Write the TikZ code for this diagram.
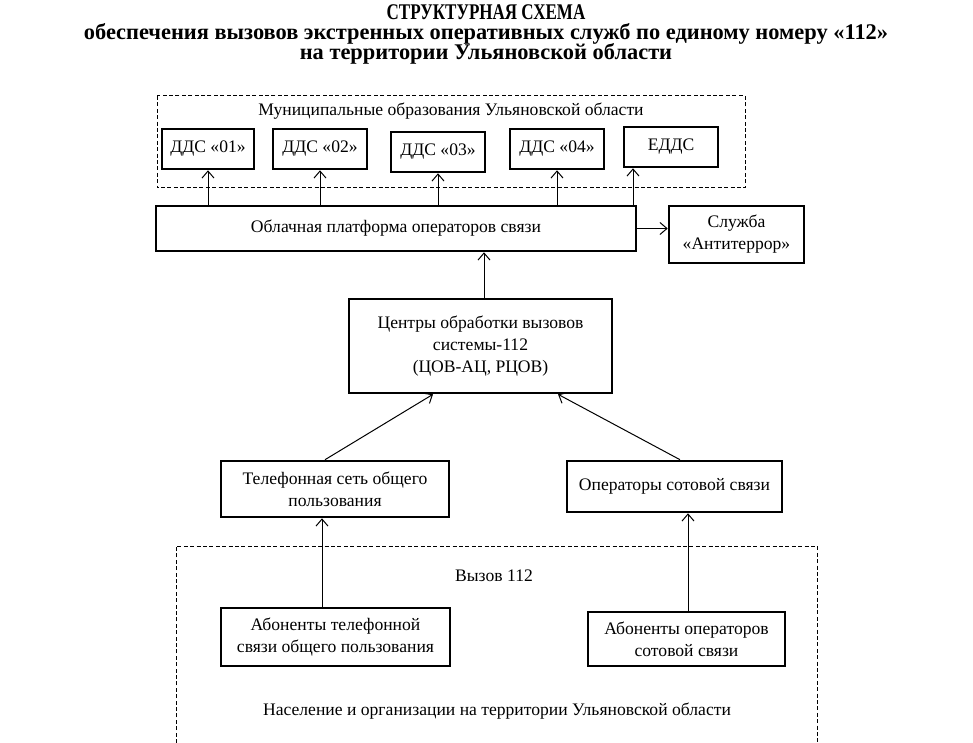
\documentclass[tikz,border=0pt]{standalone}
\usepackage{fontspec}
\setmainfont{Liberation Serif}
\usetikzlibrary{arrows.meta, calc}
\tikzstyle{block} = [rectangle, line width=1.3pt, inner sep=0pt, align=center, draw=black, font=\fontsize{8.8pt}{11pt}\selectfont]
\tikzstyle{area} = [draw=black, line width=0.5pt, dash pattern=on 2pt off 1.2pt]
\tikzstyle{arrow} = [line width=0.5pt, -{Straight Barb[length=3.5pt,width=6pt]}]
\tikzstyle{caption} = [inner sep=0pt, font=\fontsize{8.8pt}{11pt}\selectfont]
\tikzstyle{heading} = [inner sep=0pt, anchor=base, font=\fontsize{11.2pt}{13pt}\selectfont\bfseries]

\begin{document}
\begin{tikzpicture}[x=0.5pt, y=-0.5pt]
	\useasboundingbox (0,0) rectangle (973,743);
	\node (TitleTop) [heading] at (486,19.5) {\scalebox{0.76}[1]{СТРУКТУРНАЯ СХЕМА}};
	\node (TitleMid) [heading] at (486,39.5) {обеспечения вызовов экстренных оперативных служб  по единому номеру «112»};
	\node (TitleLow) [heading] at (486,60) {на территории Ульяновской области};
	% municipal level
	\draw [area] (157,96) rectangle (745,188);
	\node (Municipal) [caption] at (451,111) {Муниципальные образования Ульяновской области};
	\node (DDS01) [block, minimum width=46pt, minimum height=20pt] at (208,149) {ДДС «01»};
	\node (DDS02) [block, minimum width=47pt, minimum height=20pt] at (320,149) {ДДС «02»};
	\node (DDS03) [block, minimum width=47pt, minimum height=20pt] at (438,152) {ДДС «03»};
	\node (DDS04) [block, minimum width=47pt, minimum height=20pt] at (557,149) {ДДС «04»};
	\node (EDDS) [block, minimum width=47pt, minimum height=20pt] at (671,147) {ЕДДС};
	\node (Platform) [block, minimum width=240pt, minimum height=22.5pt] at (396,228.5) {Облачная платформа операторов связи};
	\node (Antiterror) [block, minimum width=67.5pt, minimum height=28.5pt] at (736.5,234.5) {Служба\\«Антитеррор»};
	\node (Centers) [block, minimum width=131.5pt, minimum height=47pt] at (480.5,346) {Центры обработки вызовов\\системы-112\\(ЦОВ-АЦ, РЦОВ)};
	\node (PhoneNet) [block, minimum width=114pt, minimum height=28pt] at (335,489) {Телефонная сеть общего\\пользования};
	\node (Cellular) [block, minimum width=107.5pt, minimum height=25.5pt] at (674.5,486.5) {Операторы сотовой связи};
	% population level
	\draw [area] (176,743) -- (176,546) -- (817,546) -- (817,743);
	\node (Call) [caption] at (494,576) {Вызов 112};
	\node (PhoneSubs) [block, minimum width=114.5pt, minimum height=29pt] at (335.5,637) {Абоненты телефонной\\связи общего пользования};
	\node (CellSubs) [block, minimum width=98.5pt, minimum height=27pt] at (686.5,639) {Абоненты операторов\\сотовой связи};
	\node (Population) [caption] at (497,711) {Население и организации на территории Ульяновской области};
	% connectors
	\foreach \dds in {DDS01, DDS02, DDS03, DDS04}
		\draw [arrow] (Platform.north -| \dds.south) -- (\dds.south);
	\coordinate (EDDSIn) at ($(EDDS.south)+(-38,0)$);
	\draw [arrow] (EDDSIn |- Platform.north) -- (EDDSIn);
	\draw [arrow] (Platform.east) -- (Platform.east -| Antiterror.west);
	\coordinate (CentersOut) at ($(Centers.north)+(3.5,0)$);
	\draw [arrow] (CentersOut) -- (CentersOut |- Platform.south);
	\draw [arrow] ($(PhoneNet.north)+(-10,0)$) -- ($(Centers.south)+(-47.5,0)$);
	\draw [arrow] ($(Cellular.north)+(5.5,0)$) -- ($(Centers.south)+(77.5,0)$);
	\coordinate (PhoneLine) at ($(PhoneSubs.north)+(-13.5,0)$);
	\draw [arrow] (PhoneLine) -- (PhoneLine |- PhoneNet.south);
	\coordinate (CellLine) at ($(CellSubs.north)+(1.5,0)$);
	\draw [arrow] (CellLine) -- (CellLine |- Cellular.south);
\end{tikzpicture}
\end{document}
